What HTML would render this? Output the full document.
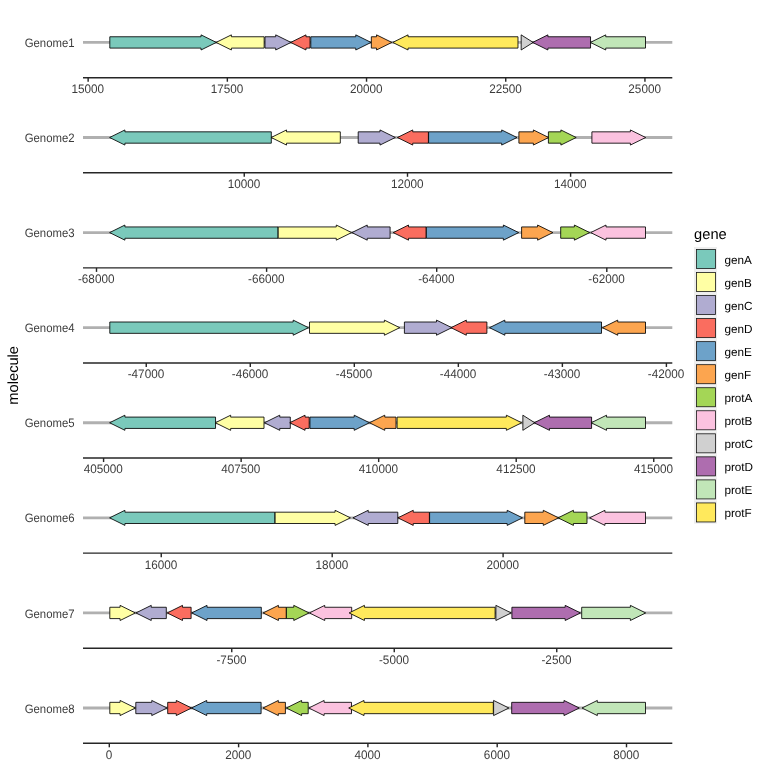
<!DOCTYPE html>
<html lang="en"><head><meta charset="utf-8"><title>gene arrows</title>
<style>html,body{margin:0;padding:0;background:#fff}svg{display:block}text{font-family:"Liberation Sans",sans-serif;text-rendering:geometricPrecision}</style></head>
<body>
<svg width="768" height="768" viewBox="0 0 768 768">
<rect width="768" height="768" fill="#fff"/>
<g>
<line x1="83" x2="672.3" y1="42.43" y2="42.43" stroke="#B0B0B0" stroke-width="2.85"/>
<polygon points="109.8,36.76 201.03,36.76 201.03,34.87 216.35,42.43 201.03,49.99 201.03,48.1 109.8,48.1" fill="#7AC9BB" stroke="#000" stroke-width="0.85" stroke-linejoin="miter"/>
<polygon points="264.15,36.76 231.38,36.76 231.38,34.87 216.06,42.43 231.38,49.99 231.38,48.1 264.15,48.1" fill="#FFFFA4" stroke="#000" stroke-width="0.85" stroke-linejoin="miter"/>
<polygon points="264.98,36.76 275.7,36.76 275.7,34.87 291.02,42.43 275.7,49.99 275.7,48.1 264.98,48.1" fill="#B0ACD1" stroke="#000" stroke-width="0.85" stroke-linejoin="miter"/>
<polygon points="310.03,36.76 305.99,36.76 305.99,34.87 290.67,42.43 305.99,49.99 305.99,48.1 310.03,48.1" fill="#FA6D5F" stroke="#000" stroke-width="0.85" stroke-linejoin="miter"/>
<polygon points="310.81,36.76 355.77,36.76 355.77,34.87 371.08,42.43 355.77,49.99 355.77,48.1 310.81,48.1" fill="#6DA2C9" stroke="#000" stroke-width="0.85" stroke-linejoin="miter"/>
<polygon points="371.33,36.76 376.54,36.76 376.54,34.87 391.85,42.43 376.54,49.99 376.54,48.1 371.33,48.1" fill="#FCA54F" stroke="#000" stroke-width="0.85" stroke-linejoin="miter"/>
<polygon points="521.17,36.76 521.17,36.76 521.17,34.87 533.17,42.43 521.17,49.99 521.17,48.1 521.17,48.1" fill="#D0D0D0" stroke="#000" stroke-width="0.85" stroke-linejoin="miter"/>
<polygon points="590.54,36.76 547.92,36.76 547.92,34.87 532.6,42.43 547.92,49.99 547.92,48.1 590.54,48.1" fill="#AE6DAF" stroke="#000" stroke-width="0.85" stroke-linejoin="miter"/>
<polygon points="645.5,36.76 605.72,36.76 605.72,34.87 590.4,42.43 605.72,49.99 605.72,48.1 645.5,48.1" fill="#C1E6B8" stroke="#000" stroke-width="0.85" stroke-linejoin="miter"/>
<polygon points="517.99,36.76 408.05,36.76 408.05,34.87 392.73,42.43 408.05,49.99 408.05,48.1 517.99,48.1" fill="#FFE95C" stroke="#000" stroke-width="0.85" stroke-linejoin="miter"/>
<line x1="83" x2="672.3" y1="77.7" y2="77.7" stroke="#262626" stroke-width="1.42"/>
<line x1="88.14" x2="88.14" y1="77.7" y2="81.72" stroke="#262626" stroke-width="1.42"/>
<text transform="translate(87.84,93) scale(1,1.06)" font-size="11.73" fill="#3C3C3C" text-anchor="middle">15000</text>
<line x1="227.34" x2="227.34" y1="77.7" y2="81.72" stroke="#262626" stroke-width="1.42"/>
<text transform="translate(227.04,93) scale(1,1.06)" font-size="11.73" fill="#3C3C3C" text-anchor="middle">17500</text>
<line x1="366.54" x2="366.54" y1="77.7" y2="81.72" stroke="#262626" stroke-width="1.42"/>
<text transform="translate(366.24,93) scale(1,1.06)" font-size="11.73" fill="#3C3C3C" text-anchor="middle">20000</text>
<line x1="505.74" x2="505.74" y1="77.7" y2="81.72" stroke="#262626" stroke-width="1.42"/>
<text transform="translate(505.44,93) scale(1,1.06)" font-size="11.73" fill="#3C3C3C" text-anchor="middle">22500</text>
<line x1="644.94" x2="644.94" y1="77.7" y2="81.72" stroke="#262626" stroke-width="1.42"/>
<text transform="translate(644.64,93) scale(1,1.06)" font-size="11.73" fill="#3C3C3C" text-anchor="middle">25000</text>
<text transform="translate(74.6,47) scale(0.97,1.045)" font-size="11.73" fill="#3C3C3C" text-anchor="end">Genome1</text>
</g>
<g>
<line x1="83" x2="672.3" y1="137.51" y2="137.51" stroke="#B0B0B0" stroke-width="2.85"/>
<polygon points="271.3,131.84 124.92,131.84 124.92,129.95 109.6,137.51 124.92,145.07 124.92,143.18 271.3,143.18" fill="#7AC9BB" stroke="#000" stroke-width="0.85" stroke-linejoin="miter"/>
<polygon points="340.3,131.84 286.52,131.84 286.52,129.95 271.2,137.51 286.52,145.07 286.52,143.18 340.3,143.18" fill="#FFFFA4" stroke="#000" stroke-width="0.85" stroke-linejoin="miter"/>
<polygon points="358.2,131.84 379.98,131.84 379.98,129.95 395.3,137.51 379.98,145.07 379.98,143.18 358.2,143.18" fill="#B0ACD1" stroke="#000" stroke-width="0.85" stroke-linejoin="miter"/>
<polygon points="428.4,131.84 412.72,131.84 412.72,129.95 397.4,137.51 412.72,145.07 412.72,143.18 428.4,143.18" fill="#FA6D5F" stroke="#000" stroke-width="0.85" stroke-linejoin="miter"/>
<polygon points="428.6,131.84 501.68,131.84 501.68,129.95 517,137.51 501.68,145.07 501.68,143.18 428.6,143.18" fill="#6DA2C9" stroke="#000" stroke-width="0.85" stroke-linejoin="miter"/>
<polygon points="518.9,131.84 533.38,131.84 533.38,129.95 548.7,137.51 533.38,145.07 533.38,143.18 518.9,143.18" fill="#FCA54F" stroke="#000" stroke-width="0.85" stroke-linejoin="miter"/>
<polygon points="548.4,131.84 560.88,131.84 560.88,129.95 576.2,137.51 560.88,145.07 560.88,143.18 548.4,143.18" fill="#A4D656" stroke="#000" stroke-width="0.85" stroke-linejoin="miter"/>
<polygon points="591.9,131.84 630.38,131.84 630.38,129.95 645.7,137.51 630.38,145.07 630.38,143.18 591.9,143.18" fill="#FBC2DF" stroke="#000" stroke-width="0.85" stroke-linejoin="miter"/>
<line x1="83" x2="672.3" y1="172.78" y2="172.78" stroke="#262626" stroke-width="1.42"/>
<line x1="244.25" x2="244.25" y1="172.78" y2="176.8" stroke="#262626" stroke-width="1.42"/>
<text transform="translate(243.95,188) scale(1,1.06)" font-size="11.73" fill="#3C3C3C" text-anchor="middle">10000</text>
<line x1="407.5" x2="407.5" y1="172.78" y2="176.8" stroke="#262626" stroke-width="1.42"/>
<text transform="translate(407.2,188) scale(1,1.06)" font-size="11.73" fill="#3C3C3C" text-anchor="middle">12000</text>
<line x1="570.6" x2="570.6" y1="172.78" y2="176.8" stroke="#262626" stroke-width="1.42"/>
<text transform="translate(570.3,188) scale(1,1.06)" font-size="11.73" fill="#3C3C3C" text-anchor="middle">14000</text>
<text transform="translate(74.6,142) scale(0.97,1.045)" font-size="11.73" fill="#3C3C3C" text-anchor="end">Genome2</text>
</g>
<g>
<line x1="83" x2="672.3" y1="232.6" y2="232.6" stroke="#B0B0B0" stroke-width="2.85"/>
<polygon points="278,226.93 124.92,226.93 124.92,225.04 109.6,232.6 124.92,240.16 124.92,238.27 278,238.27" fill="#7AC9BB" stroke="#000" stroke-width="0.85" stroke-linejoin="miter"/>
<polygon points="278.2,226.93 336.28,226.93 336.28,225.04 351.6,232.6 336.28,240.16 336.28,238.27 278.2,238.27" fill="#FFFFA4" stroke="#000" stroke-width="0.85" stroke-linejoin="miter"/>
<polygon points="390.1,226.93 367.22,226.93 367.22,225.04 351.9,232.6 367.22,240.16 367.22,238.27 390.1,238.27" fill="#B0ACD1" stroke="#000" stroke-width="0.85" stroke-linejoin="miter"/>
<polygon points="426.15,226.93 408.52,226.93 408.52,225.04 393.2,232.6 408.52,240.16 408.52,238.27 426.15,238.27" fill="#FA6D5F" stroke="#000" stroke-width="0.85" stroke-linejoin="miter"/>
<polygon points="426.35,226.93 503.38,226.93 503.38,225.04 518.7,232.6 503.38,240.16 503.38,238.27 426.35,238.27" fill="#6DA2C9" stroke="#000" stroke-width="0.85" stroke-linejoin="miter"/>
<polygon points="521.6,226.93 537.58,226.93 537.58,225.04 552.9,232.6 537.58,240.16 537.58,238.27 521.6,238.27" fill="#FCA54F" stroke="#000" stroke-width="0.85" stroke-linejoin="miter"/>
<polygon points="560.7,226.93 574.38,226.93 574.38,225.04 589.7,232.6 574.38,240.16 574.38,238.27 560.7,238.27" fill="#A4D656" stroke="#000" stroke-width="0.85" stroke-linejoin="miter"/>
<polygon points="645.5,226.93 606.02,226.93 606.02,225.04 590.7,232.6 606.02,240.16 606.02,238.27 645.5,238.27" fill="#FBC2DF" stroke="#000" stroke-width="0.85" stroke-linejoin="miter"/>
<line x1="83" x2="672.3" y1="267.87" y2="267.87" stroke="#262626" stroke-width="1.42"/>
<line x1="96.5" x2="96.5" y1="267.87" y2="271.89" stroke="#262626" stroke-width="1.42"/>
<text transform="translate(96.2,283) scale(1,1.06)" font-size="11.73" fill="#3C3C3C" text-anchor="middle">-68000</text>
<line x1="266.6" x2="266.6" y1="267.87" y2="271.89" stroke="#262626" stroke-width="1.42"/>
<text transform="translate(266.3,283) scale(1,1.06)" font-size="11.73" fill="#3C3C3C" text-anchor="middle">-66000</text>
<line x1="436.7" x2="436.7" y1="267.87" y2="271.89" stroke="#262626" stroke-width="1.42"/>
<text transform="translate(436.4,283) scale(1,1.06)" font-size="11.73" fill="#3C3C3C" text-anchor="middle">-64000</text>
<line x1="606.8" x2="606.8" y1="267.87" y2="271.89" stroke="#262626" stroke-width="1.42"/>
<text transform="translate(606.5,283) scale(1,1.06)" font-size="11.73" fill="#3C3C3C" text-anchor="middle">-62000</text>
<text transform="translate(74.6,237) scale(0.97,1.045)" font-size="11.73" fill="#3C3C3C" text-anchor="end">Genome3</text>
</g>
<g>
<line x1="83" x2="672.3" y1="327.68" y2="327.68" stroke="#B0B0B0" stroke-width="2.85"/>
<polygon points="109.8,322.01 293.18,322.01 293.18,320.12 308.5,327.68 293.18,335.24 293.18,333.35 109.8,333.35" fill="#7AC9BB" stroke="#000" stroke-width="0.85" stroke-linejoin="miter"/>
<polygon points="309.5,322.01 384.38,322.01 384.38,320.12 399.7,327.68 384.38,335.24 384.38,333.35 309.5,333.35" fill="#FFFFA4" stroke="#000" stroke-width="0.85" stroke-linejoin="miter"/>
<polygon points="404.4,322.01 436.48,322.01 436.48,320.12 451.8,327.68 436.48,335.24 436.48,333.35 404.4,333.35" fill="#B0ACD1" stroke="#000" stroke-width="0.85" stroke-linejoin="miter"/>
<polygon points="486.9,322.01 466.32,322.01 466.32,320.12 451,327.68 466.32,335.24 466.32,333.35 486.9,333.35" fill="#FA6D5F" stroke="#000" stroke-width="0.85" stroke-linejoin="miter"/>
<polygon points="601.5,322.01 504.82,322.01 504.82,320.12 489.5,327.68 504.82,335.24 504.82,333.35 601.5,333.35" fill="#6DA2C9" stroke="#000" stroke-width="0.85" stroke-linejoin="miter"/>
<polygon points="645.5,322.01 617.72,322.01 617.72,320.12 602.4,327.68 617.72,335.24 617.72,333.35 645.5,333.35" fill="#FCA54F" stroke="#000" stroke-width="0.85" stroke-linejoin="miter"/>
<line x1="83" x2="672.3" y1="362.95" y2="362.95" stroke="#262626" stroke-width="1.42"/>
<line x1="146.25" x2="146.25" y1="362.95" y2="366.97" stroke="#262626" stroke-width="1.42"/>
<text transform="translate(145.95,378) scale(1,1.06)" font-size="11.73" fill="#3C3C3C" text-anchor="middle">-47000</text>
<line x1="250.28" x2="250.28" y1="362.95" y2="366.97" stroke="#262626" stroke-width="1.42"/>
<text transform="translate(249.98,378) scale(1,1.06)" font-size="11.73" fill="#3C3C3C" text-anchor="middle">-46000</text>
<line x1="354.31" x2="354.31" y1="362.95" y2="366.97" stroke="#262626" stroke-width="1.42"/>
<text transform="translate(354.01,378) scale(1,1.06)" font-size="11.73" fill="#3C3C3C" text-anchor="middle">-45000</text>
<line x1="458.34" x2="458.34" y1="362.95" y2="366.97" stroke="#262626" stroke-width="1.42"/>
<text transform="translate(458.04,378) scale(1,1.06)" font-size="11.73" fill="#3C3C3C" text-anchor="middle">-44000</text>
<line x1="562.37" x2="562.37" y1="362.95" y2="366.97" stroke="#262626" stroke-width="1.42"/>
<text transform="translate(562.07,378) scale(1,1.06)" font-size="11.73" fill="#3C3C3C" text-anchor="middle">-43000</text>
<line x1="666.4" x2="666.4" y1="362.95" y2="366.97" stroke="#262626" stroke-width="1.42"/>
<text transform="translate(666.1,378) scale(1,1.06)" font-size="11.73" fill="#3C3C3C" text-anchor="middle">-42000</text>
<text transform="translate(74.6,332) scale(0.97,1.045)" font-size="11.73" fill="#3C3C3C" text-anchor="end">Genome4</text>
</g>
<g>
<line x1="83" x2="672.3" y1="422.76" y2="422.76" stroke="#B0B0B0" stroke-width="2.85"/>
<polygon points="215.54,417.09 124.92,417.09 124.92,415.2 109.6,422.76 124.92,430.32 124.92,428.43 215.54,428.43" fill="#7AC9BB" stroke="#000" stroke-width="0.85" stroke-linejoin="miter"/>
<polygon points="264.01,417.09 230.66,417.09 230.66,415.2 215.34,422.76 230.66,430.32 230.66,428.43 264.01,428.43" fill="#FFFFA4" stroke="#000" stroke-width="0.85" stroke-linejoin="miter"/>
<polygon points="290.31,417.09 279.74,417.09 279.74,415.2 264.42,422.76 279.74,430.32 279.74,428.43 290.31,428.43" fill="#B0ACD1" stroke="#000" stroke-width="0.85" stroke-linejoin="miter"/>
<polygon points="309.18,417.09 305.04,417.09 305.04,415.2 289.73,422.76 305.04,430.32 305.04,428.43 309.18,428.43" fill="#FA6D5F" stroke="#000" stroke-width="0.85" stroke-linejoin="miter"/>
<polygon points="309.95,417.09 354.2,417.09 354.2,415.2 369.51,422.76 354.2,430.32 354.2,428.43 309.95,428.43" fill="#6DA2C9" stroke="#000" stroke-width="0.85" stroke-linejoin="miter"/>
<polygon points="396,417.09 384.76,417.09 384.76,415.2 369.45,422.76 384.76,430.32 384.76,428.43 396,428.43" fill="#FCA54F" stroke="#000" stroke-width="0.85" stroke-linejoin="miter"/>
<polygon points="397.1,417.09 506.37,417.09 506.37,415.2 521.69,422.76 506.37,430.32 506.37,428.43 397.1,428.43" fill="#FFE95C" stroke="#000" stroke-width="0.85" stroke-linejoin="miter"/>
<polygon points="522.87,417.09 522.87,417.09 522.87,415.2 534.73,422.76 522.87,430.32 522.87,428.43 522.87,428.43" fill="#D0D0D0" stroke="#000" stroke-width="0.85" stroke-linejoin="miter"/>
<polygon points="591.58,417.09 549.48,417.09 549.48,415.2 534.17,422.76 549.48,430.32 549.48,428.43 591.58,428.43" fill="#AE6DAF" stroke="#000" stroke-width="0.85" stroke-linejoin="miter"/>
<polygon points="645.5,417.09 606.54,417.09 606.54,415.2 591.22,422.76 606.54,430.32 606.54,428.43 645.5,428.43" fill="#C1E6B8" stroke="#000" stroke-width="0.85" stroke-linejoin="miter"/>
<line x1="83" x2="672.3" y1="458.03" y2="458.03" stroke="#262626" stroke-width="1.42"/>
<line x1="103.58" x2="103.58" y1="458.03" y2="462.05" stroke="#262626" stroke-width="1.42"/>
<text transform="translate(103.28,473) scale(1,1.06)" font-size="11.73" fill="#3C3C3C" text-anchor="middle">405000</text>
<line x1="241.13" x2="241.13" y1="458.03" y2="462.05" stroke="#262626" stroke-width="1.42"/>
<text transform="translate(240.83,473) scale(1,1.06)" font-size="11.73" fill="#3C3C3C" text-anchor="middle">407500</text>
<line x1="378.67" x2="378.67" y1="458.03" y2="462.05" stroke="#262626" stroke-width="1.42"/>
<text transform="translate(378.37,473) scale(1,1.06)" font-size="11.73" fill="#3C3C3C" text-anchor="middle">410000</text>
<line x1="516.21" x2="516.21" y1="458.03" y2="462.05" stroke="#262626" stroke-width="1.42"/>
<text transform="translate(515.91,473) scale(1,1.06)" font-size="11.73" fill="#3C3C3C" text-anchor="middle">412500</text>
<line x1="653.75" x2="653.75" y1="458.03" y2="462.05" stroke="#262626" stroke-width="1.42"/>
<text transform="translate(653.45,473) scale(1,1.06)" font-size="11.73" fill="#3C3C3C" text-anchor="middle">415000</text>
<text transform="translate(74.6,427) scale(0.97,1.045)" font-size="11.73" fill="#3C3C3C" text-anchor="end">Genome5</text>
</g>
<g>
<line x1="83" x2="672.3" y1="517.84" y2="517.84" stroke="#B0B0B0" stroke-width="2.85"/>
<polygon points="274.9,512.18 124.92,512.18 124.92,510.29 109.6,517.84 124.92,525.4 124.92,523.51 274.9,523.51" fill="#7AC9BB" stroke="#000" stroke-width="0.85" stroke-linejoin="miter"/>
<polygon points="275.1,512.18 335.08,512.18 335.08,510.29 350.4,517.84 335.08,525.4 335.08,523.51 275.1,523.51" fill="#FFFFA4" stroke="#000" stroke-width="0.85" stroke-linejoin="miter"/>
<polygon points="397.8,512.18 368.22,512.18 368.22,510.29 352.9,517.84 368.22,525.4 368.22,523.51 397.8,523.51" fill="#B0ACD1" stroke="#000" stroke-width="0.85" stroke-linejoin="miter"/>
<polygon points="429.4,512.18 413.22,512.18 413.22,510.29 397.9,517.84 413.22,525.4 413.22,523.51 429.4,523.51" fill="#FA6D5F" stroke="#000" stroke-width="0.85" stroke-linejoin="miter"/>
<polygon points="429.6,512.18 507.18,512.18 507.18,510.29 522.5,517.84 507.18,525.4 507.18,523.51 429.6,523.51" fill="#6DA2C9" stroke="#000" stroke-width="0.85" stroke-linejoin="miter"/>
<polygon points="524.8,512.18 543.28,512.18 543.28,510.29 558.6,517.84 543.28,525.4 543.28,523.51 524.8,523.51" fill="#FCA54F" stroke="#000" stroke-width="0.85" stroke-linejoin="miter"/>
<polygon points="587,512.18 573.42,512.18 573.42,510.29 558.1,517.84 573.42,525.4 573.42,523.51 587,523.51" fill="#A4D656" stroke="#000" stroke-width="0.85" stroke-linejoin="miter"/>
<polygon points="645.5,512.18 604.92,512.18 604.92,510.29 589.6,517.84 604.92,525.4 604.92,523.51 645.5,523.51" fill="#FBC2DF" stroke="#000" stroke-width="0.85" stroke-linejoin="miter"/>
<line x1="83" x2="672.3" y1="553.12" y2="553.12" stroke="#262626" stroke-width="1.42"/>
<line x1="161.25" x2="161.25" y1="553.12" y2="557.13" stroke="#262626" stroke-width="1.42"/>
<text transform="translate(160.95,569) scale(1,1.06)" font-size="11.73" fill="#3C3C3C" text-anchor="middle">16000</text>
<line x1="332.2" x2="332.2" y1="553.12" y2="557.13" stroke="#262626" stroke-width="1.42"/>
<text transform="translate(331.9,569) scale(1,1.06)" font-size="11.73" fill="#3C3C3C" text-anchor="middle">18000</text>
<line x1="503.1" x2="503.1" y1="553.12" y2="557.13" stroke="#262626" stroke-width="1.42"/>
<text transform="translate(502.8,569) scale(1,1.06)" font-size="11.73" fill="#3C3C3C" text-anchor="middle">20000</text>
<text transform="translate(74.6,522) scale(0.97,1.045)" font-size="11.73" fill="#3C3C3C" text-anchor="end">Genome6</text>
</g>
<g>
<line x1="83" x2="672.3" y1="612.93" y2="612.93" stroke="#B0B0B0" stroke-width="2.85"/>
<polygon points="109.8,607.26 120.08,607.26 120.08,605.37 135.4,612.93 120.08,620.49 120.08,618.6 109.8,618.6" fill="#FFFFA4" stroke="#000" stroke-width="0.85" stroke-linejoin="miter"/>
<polygon points="166.3,607.26 151.22,607.26 151.22,605.37 135.9,612.93 151.22,620.49 151.22,618.6 166.3,618.6" fill="#B0ACD1" stroke="#000" stroke-width="0.85" stroke-linejoin="miter"/>
<polygon points="191.1,607.26 182.52,607.26 182.52,605.37 167.2,612.93 182.52,620.49 182.52,618.6 191.1,618.6" fill="#FA6D5F" stroke="#000" stroke-width="0.85" stroke-linejoin="miter"/>
<polygon points="261.3,607.26 207.02,607.26 207.02,605.37 191.7,612.93 207.02,620.49 207.02,618.6 261.3,618.6" fill="#6DA2C9" stroke="#000" stroke-width="0.85" stroke-linejoin="miter"/>
<polygon points="286.3,607.26 278.42,607.26 278.42,605.37 263.1,612.93 278.42,620.49 278.42,618.6 286.3,618.6" fill="#FCA54F" stroke="#000" stroke-width="0.85" stroke-linejoin="miter"/>
<polygon points="286.4,607.26 293.78,607.26 293.78,605.37 309.1,612.93 293.78,620.49 293.78,618.6 286.4,618.6" fill="#A4D656" stroke="#000" stroke-width="0.85" stroke-linejoin="miter"/>
<polygon points="351.7,607.26 324.72,607.26 324.72,605.37 309.4,612.93 324.72,620.49 324.72,618.6 351.7,618.6" fill="#FBC2DF" stroke="#000" stroke-width="0.85" stroke-linejoin="miter"/>
<polygon points="495.9,607.26 495.9,607.26 495.9,605.37 511.2,612.93 495.9,620.49 495.9,618.6 495.9,618.6" fill="#D0D0D0" stroke="#000" stroke-width="0.85" stroke-linejoin="miter"/>
<polygon points="511.9,607.26 565.18,607.26 565.18,605.37 580.5,612.93 565.18,620.49 565.18,618.6 511.9,618.6" fill="#AE6DAF" stroke="#000" stroke-width="0.85" stroke-linejoin="miter"/>
<polygon points="581.7,607.26 630.38,607.26 630.38,605.37 645.7,612.93 630.38,620.49 630.38,618.6 581.7,618.6" fill="#C1E6B8" stroke="#000" stroke-width="0.85" stroke-linejoin="miter"/>
<polygon points="495.1,607.26 364.42,607.26 364.42,605.37 349.1,612.93 364.42,620.49 364.42,618.6 495.1,618.6" fill="#FFE95C" stroke="#000" stroke-width="0.85" stroke-linejoin="miter"/>
<line x1="83" x2="672.3" y1="648.2" y2="648.2" stroke="#262626" stroke-width="1.42"/>
<line x1="231.75" x2="231.75" y1="648.2" y2="652.22" stroke="#262626" stroke-width="1.42"/>
<text transform="translate(231.45,664) scale(1,1.06)" font-size="11.73" fill="#3C3C3C" text-anchor="middle">-7500</text>
<line x1="394.25" x2="394.25" y1="648.2" y2="652.22" stroke="#262626" stroke-width="1.42"/>
<text transform="translate(393.95,664) scale(1,1.06)" font-size="11.73" fill="#3C3C3C" text-anchor="middle">-5000</text>
<line x1="556.75" x2="556.75" y1="648.2" y2="652.22" stroke="#262626" stroke-width="1.42"/>
<text transform="translate(556.45,664) scale(1,1.06)" font-size="11.73" fill="#3C3C3C" text-anchor="middle">-2500</text>
<text transform="translate(74.6,618) scale(0.97,1.045)" font-size="11.73" fill="#3C3C3C" text-anchor="end">Genome7</text>
</g>
<g>
<line x1="83" x2="672.3" y1="708.01" y2="708.01" stroke="#B0B0B0" stroke-width="2.85"/>
<polygon points="109.8,702.34 120.08,702.34 120.08,700.45 135.4,708.01 120.08,715.57 120.08,713.68 109.8,713.68" fill="#FFFFA4" stroke="#000" stroke-width="0.85" stroke-linejoin="miter"/>
<polygon points="135.8,702.34 151.78,702.34 151.78,700.45 167.1,708.01 151.78,715.57 151.78,713.68 135.8,713.68" fill="#B0ACD1" stroke="#000" stroke-width="0.85" stroke-linejoin="miter"/>
<polygon points="167.7,702.34 176.28,702.34 176.28,700.45 191.6,708.01 176.28,715.57 176.28,713.68 167.7,713.68" fill="#FA6D5F" stroke="#000" stroke-width="0.85" stroke-linejoin="miter"/>
<polygon points="261.1,702.34 206.72,702.34 206.72,700.45 191.4,708.01 206.72,715.57 206.72,713.68 261.1,713.68" fill="#6DA2C9" stroke="#000" stroke-width="0.85" stroke-linejoin="miter"/>
<polygon points="285.4,702.34 278.32,702.34 278.32,700.45 263,708.01 278.32,715.57 278.32,713.68 285.4,713.68" fill="#FCA54F" stroke="#000" stroke-width="0.85" stroke-linejoin="miter"/>
<polygon points="308.2,702.34 301.62,702.34 301.62,700.45 286.3,708.01 301.62,715.57 301.62,713.68 308.2,713.68" fill="#A4D656" stroke="#000" stroke-width="0.85" stroke-linejoin="miter"/>
<polygon points="351.5,702.34 324.12,702.34 324.12,700.45 308.8,708.01 324.12,715.57 324.12,713.68 351.5,713.68" fill="#FBC2DF" stroke="#000" stroke-width="0.85" stroke-linejoin="miter"/>
<polygon points="493.6,702.34 493.6,702.34 493.6,700.45 508.9,708.01 493.6,715.57 493.6,713.68 493.6,713.68" fill="#D0D0D0" stroke="#000" stroke-width="0.85" stroke-linejoin="miter"/>
<polygon points="511.7,702.34 563.98,702.34 563.98,700.45 579.3,708.01 563.98,715.57 563.98,713.68 511.7,713.68" fill="#AE6DAF" stroke="#000" stroke-width="0.85" stroke-linejoin="miter"/>
<polygon points="645.5,702.34 597.32,702.34 597.32,700.45 582,708.01 597.32,715.57 597.32,713.68 645.5,713.68" fill="#C1E6B8" stroke="#000" stroke-width="0.85" stroke-linejoin="miter"/>
<polygon points="493.3,702.34 364.02,702.34 364.02,700.45 348.7,708.01 364.02,715.57 364.02,713.68 493.3,713.68" fill="#FFE95C" stroke="#000" stroke-width="0.85" stroke-linejoin="miter"/>
<line x1="83" x2="672.3" y1="743.28" y2="743.28" stroke="#262626" stroke-width="1.42"/>
<line x1="109.3" x2="109.3" y1="743.28" y2="747.3" stroke="#262626" stroke-width="1.42"/>
<text transform="translate(109,759) scale(1,1.06)" font-size="11.73" fill="#3C3C3C" text-anchor="middle">0</text>
<line x1="238.6" x2="238.6" y1="743.28" y2="747.3" stroke="#262626" stroke-width="1.42"/>
<text transform="translate(238.3,759) scale(1,1.06)" font-size="11.73" fill="#3C3C3C" text-anchor="middle">2000</text>
<line x1="367.9" x2="367.9" y1="743.28" y2="747.3" stroke="#262626" stroke-width="1.42"/>
<text transform="translate(367.6,759) scale(1,1.06)" font-size="11.73" fill="#3C3C3C" text-anchor="middle">4000</text>
<line x1="497.2" x2="497.2" y1="743.28" y2="747.3" stroke="#262626" stroke-width="1.42"/>
<text transform="translate(496.9,759) scale(1,1.06)" font-size="11.73" fill="#3C3C3C" text-anchor="middle">6000</text>
<line x1="626.5" x2="626.5" y1="743.28" y2="747.3" stroke="#262626" stroke-width="1.42"/>
<text transform="translate(626.2,759) scale(1,1.06)" font-size="11.73" fill="#3C3C3C" text-anchor="middle">8000</text>
<text transform="translate(74.6,713) scale(0.97,1.045)" font-size="11.73" fill="#3C3C3C" text-anchor="end">Genome8</text>
</g>
<text transform="translate(18.1,375.3) rotate(-90)" font-size="14.67" fill="#000" text-anchor="middle">molecule</text>
<text x="694.1" y="238.7" font-size="14.67" fill="#000">gene</text>
<rect x="694" y="247.1" width="23.04" height="23.04" fill="#EDEDED"/>
<rect x="696.43" y="249.49" width="19.08" height="19.02" fill="#7AC9BB" stroke="#111" stroke-width="0.78"/>
<text x="724.4" y="264" font-size="11.73" fill="#000">genA</text>
<rect x="694" y="270.14" width="23.04" height="23.04" fill="#EDEDED"/>
<rect x="696.43" y="272.53" width="19.08" height="19.02" fill="#FFFFA4" stroke="#111" stroke-width="0.78"/>
<text x="724.4" y="287" font-size="11.73" fill="#000">genB</text>
<rect x="694" y="293.18" width="23.04" height="23.04" fill="#EDEDED"/>
<rect x="696.43" y="295.57" width="19.08" height="19.02" fill="#B0ACD1" stroke="#111" stroke-width="0.78"/>
<text x="724.4" y="310" font-size="11.73" fill="#000">genC</text>
<rect x="694" y="316.22" width="23.04" height="23.04" fill="#EDEDED"/>
<rect x="696.43" y="318.61" width="19.08" height="19.02" fill="#FA6D5F" stroke="#111" stroke-width="0.78"/>
<text x="724.4" y="333" font-size="11.73" fill="#000">genD</text>
<rect x="694" y="339.26" width="23.04" height="23.04" fill="#EDEDED"/>
<rect x="696.43" y="341.65" width="19.08" height="19.02" fill="#6DA2C9" stroke="#111" stroke-width="0.78"/>
<text x="724.4" y="356" font-size="11.73" fill="#000">genE</text>
<rect x="694" y="362.3" width="23.04" height="23.04" fill="#EDEDED"/>
<rect x="696.43" y="364.69" width="19.08" height="19.02" fill="#FCA54F" stroke="#111" stroke-width="0.78"/>
<text x="724.4" y="379" font-size="11.73" fill="#000">genF</text>
<rect x="694" y="385.34" width="23.04" height="23.04" fill="#EDEDED"/>
<rect x="696.43" y="387.73" width="19.08" height="19.02" fill="#A4D656" stroke="#111" stroke-width="0.78"/>
<text x="724.4" y="402" font-size="11.73" fill="#000">protA</text>
<rect x="694" y="408.38" width="23.04" height="23.04" fill="#EDEDED"/>
<rect x="696.43" y="410.77" width="19.08" height="19.02" fill="#FBC2DF" stroke="#111" stroke-width="0.78"/>
<text x="724.4" y="425" font-size="11.73" fill="#000">protB</text>
<rect x="694" y="431.42" width="23.04" height="23.04" fill="#EDEDED"/>
<rect x="696.43" y="433.81" width="19.08" height="19.02" fill="#D0D0D0" stroke="#111" stroke-width="0.78"/>
<text x="724.4" y="448" font-size="11.73" fill="#000">protC</text>
<rect x="694" y="454.46" width="23.04" height="23.04" fill="#EDEDED"/>
<rect x="696.43" y="456.85" width="19.08" height="19.02" fill="#AE6DAF" stroke="#111" stroke-width="0.78"/>
<text x="724.4" y="471" font-size="11.73" fill="#000">protD</text>
<rect x="694" y="477.5" width="23.04" height="23.04" fill="#EDEDED"/>
<rect x="696.43" y="479.89" width="19.08" height="19.02" fill="#C1E6B8" stroke="#111" stroke-width="0.78"/>
<text x="724.4" y="494" font-size="11.73" fill="#000">protE</text>
<rect x="694" y="500.54" width="23.04" height="23.04" fill="#EDEDED"/>
<rect x="696.43" y="502.93" width="19.08" height="19.02" fill="#FFE95C" stroke="#111" stroke-width="0.78"/>
<text x="724.4" y="517" font-size="11.73" fill="#000">protF</text>
</svg>
</body></html>
